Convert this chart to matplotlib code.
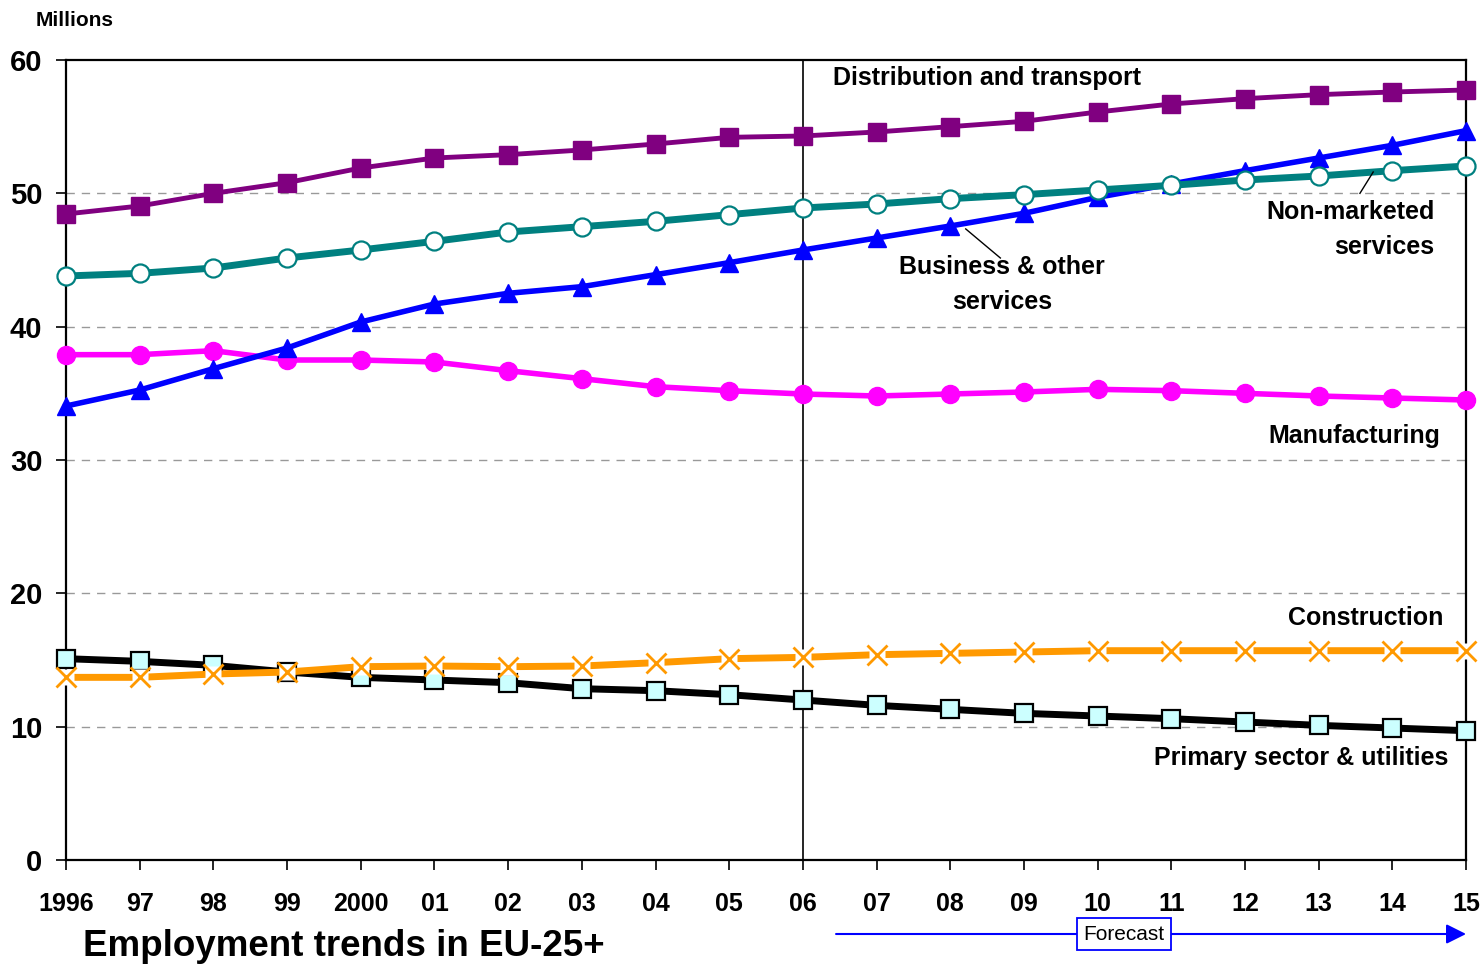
import matplotlib
matplotlib.use("Agg")
import matplotlib.pyplot as plt

plt.rcParams["font.family"] = ["Liberation Sans", "DejaVu Sans"]

years = list(range(1996, 2016))
year_labels = ["1996", "97", "98", "99", "2000", "01", "02", "03", "04", "05",
               "06", "07", "08", "09", "10", "11", "12", "13", "14", "15"]

distribution = [48.45, 49.05, 50.0, 50.8, 51.9, 52.65, 52.9, 53.25, 53.7, 54.2,
                54.3, 54.6, 55.0, 55.4, 56.1, 56.7, 57.1, 57.4, 57.6, 57.75]
non_marketed = [43.8, 44.0, 44.4, 45.15, 45.75, 46.4, 47.1, 47.5, 47.9, 48.4,
                48.9, 49.2, 49.6, 49.9, 50.25, 50.6, 51.0, 51.3, 51.7, 52.05]
business = [34.05, 35.25, 36.85, 38.4, 40.35, 41.7, 42.5, 43.0, 43.9, 44.8,
            45.75, 46.65, 47.55, 48.5, 49.7, 50.7, 51.7, 52.65, 53.6, 54.7]
manufacturing = [37.9, 37.9, 38.2, 37.5, 37.5, 37.35, 36.7, 36.1, 35.5, 35.2,
                 34.95, 34.8, 34.95, 35.1, 35.3, 35.2, 35.0, 34.8, 34.65, 34.5]
construction = [13.7, 13.7, 13.95, 14.1, 14.5, 14.55, 14.5, 14.55, 14.8, 15.1,
                15.2, 15.4, 15.5, 15.6, 15.7, 15.7, 15.7, 15.7, 15.7, 15.7]
primary = [15.1, 14.9, 14.6, 14.1, 13.7, 13.5, 13.3, 12.85, 12.7, 12.4,
           12.0, 11.6, 11.3, 11.0, 10.8, 10.6, 10.35, 10.1, 9.9, 9.7]

forecast_start = 2006

fig = plt.figure(figsize=(14.84, 9.66), dpi=100)
ax = fig.add_axes([0.0445, 0.1097, 0.9434, 0.8282])

ax.plot(years, primary, color="black", lw=5, marker="s", ms=13,
        mfc="#ccffff", mec="black", mew=1.6, clip_on=False, zorder=3)
ax.plot(years, construction, color="#ff9900", lw=5, clip_on=False, zorder=4)
# white patch behind each cross, the line breaks there in the original
ax.plot(years, construction, ls="none", marker="s", ms=11, mfc="white",
        mec="none", clip_on=False, zorder=4.1)
ax.plot(years, construction, ls="none", marker="x", ms=15,
        mec="#ff9900", mew=2, clip_on=False, zorder=4.2)
ax.plot(years, manufacturing, color="#ff00ff", lw=4, marker="o", ms=13,
        clip_on=False, zorder=3)
ax.plot(years, business, color="#0000ff", lw=4, marker="^", ms=13,
        clip_on=False, zorder=3)
ax.plot(years, non_marketed, color="#008080", lw=5, marker="o", ms=13,
        mfc="white", mec="#008080", mew=1.6, clip_on=False, zorder=4)
ax.plot(years, distribution, color="#800080", lw=3.5, marker="s", ms=13,
        clip_on=False, zorder=3)

ax.axvline(forecast_start, color="black", lw=1.2, zorder=2)

ax.set_xlim(1996, 2015)
ax.set_ylim(0, 60)
ax.set_yticks([0, 10, 20, 30, 40, 50, 60])
ax.set_xticks(years)
ax.set_xticklabels(year_labels)
for y in [10, 20, 30, 40, 50]:
    ax.axhline(y, color="#999999", lw=1, ls=(0, (6, 5)), zorder=1)

ax.tick_params(axis="y", labelsize=21, length=7, width=1.2, pad=10)
ax.tick_params(axis="x", labelsize=18, length=7, width=1.2, pad=16)
for lab in ax.get_xticklabels() + ax.get_yticklabels():
    lab.set_fontweight("bold")
for spine in ax.spines.values():
    spine.set_linewidth(1.6)

label_kw = dict(fontsize=18, fontweight="bold", va="center")
ax.text(2008.5, 58.65, "Distribution and transport", ha="center", **label_kw)
ax.text(2008.7, 43.15, "Business & other\nservices", ha="center",
        linespacing=1.6, **label_kw)
ax.text(2014.57, 47.3, "Non-marketed\nservices", ha="right",
        linespacing=1.6, multialignment="right", **label_kw)
ax.text(2014.65, 31.8, "Manufacturing", ha="right", **label_kw)
ax.text(2014.69, 18.15, "Construction", ha="right", **label_kw)
ax.text(2014.76, 7.65, "Primary sector & utilities", ha="right", **label_kw)

ax.plot([2008.21, 2008.68], [47.33, 45.15], color="black", lw=1, zorder=5)
ax.plot([2013.74, 2013.56], [51.6, 50.0], color="black", lw=1, zorder=5)

fig.text(36 / 1484, 1 - 20 / 966, "Millions", fontsize=15, fontweight="bold",
         va="center", ha="left")
fig.text(83 / 1484, 1 - 946 / 966, "Employment trends in EU-25+", fontsize=26.5,
         fontweight="bold", va="center", ha="left")

arrow_y = 1 - 934 / 966
ax.annotate("", xy=(2015, arrow_y), xytext=(2006.45, arrow_y),
            xycoords=("data", "figure fraction"),
            textcoords=("data", "figure fraction"),
            arrowprops=dict(arrowstyle="-|>", color="#0000ff", lw=1.5,
                            mutation_scale=30, shrinkA=0, shrinkB=0),
            annotation_clip=False)
ax.annotate("Forecast", xy=(2010.36, arrow_y),
            xycoords=("data", "figure fraction"),
            fontsize=15, ha="center", va="center", annotation_clip=False,
            bbox=dict(boxstyle="square,pad=0.3", fc="white", ec="#0000ff",
                      lw=1.3))

fig.savefig("out.png", dpi=100)
